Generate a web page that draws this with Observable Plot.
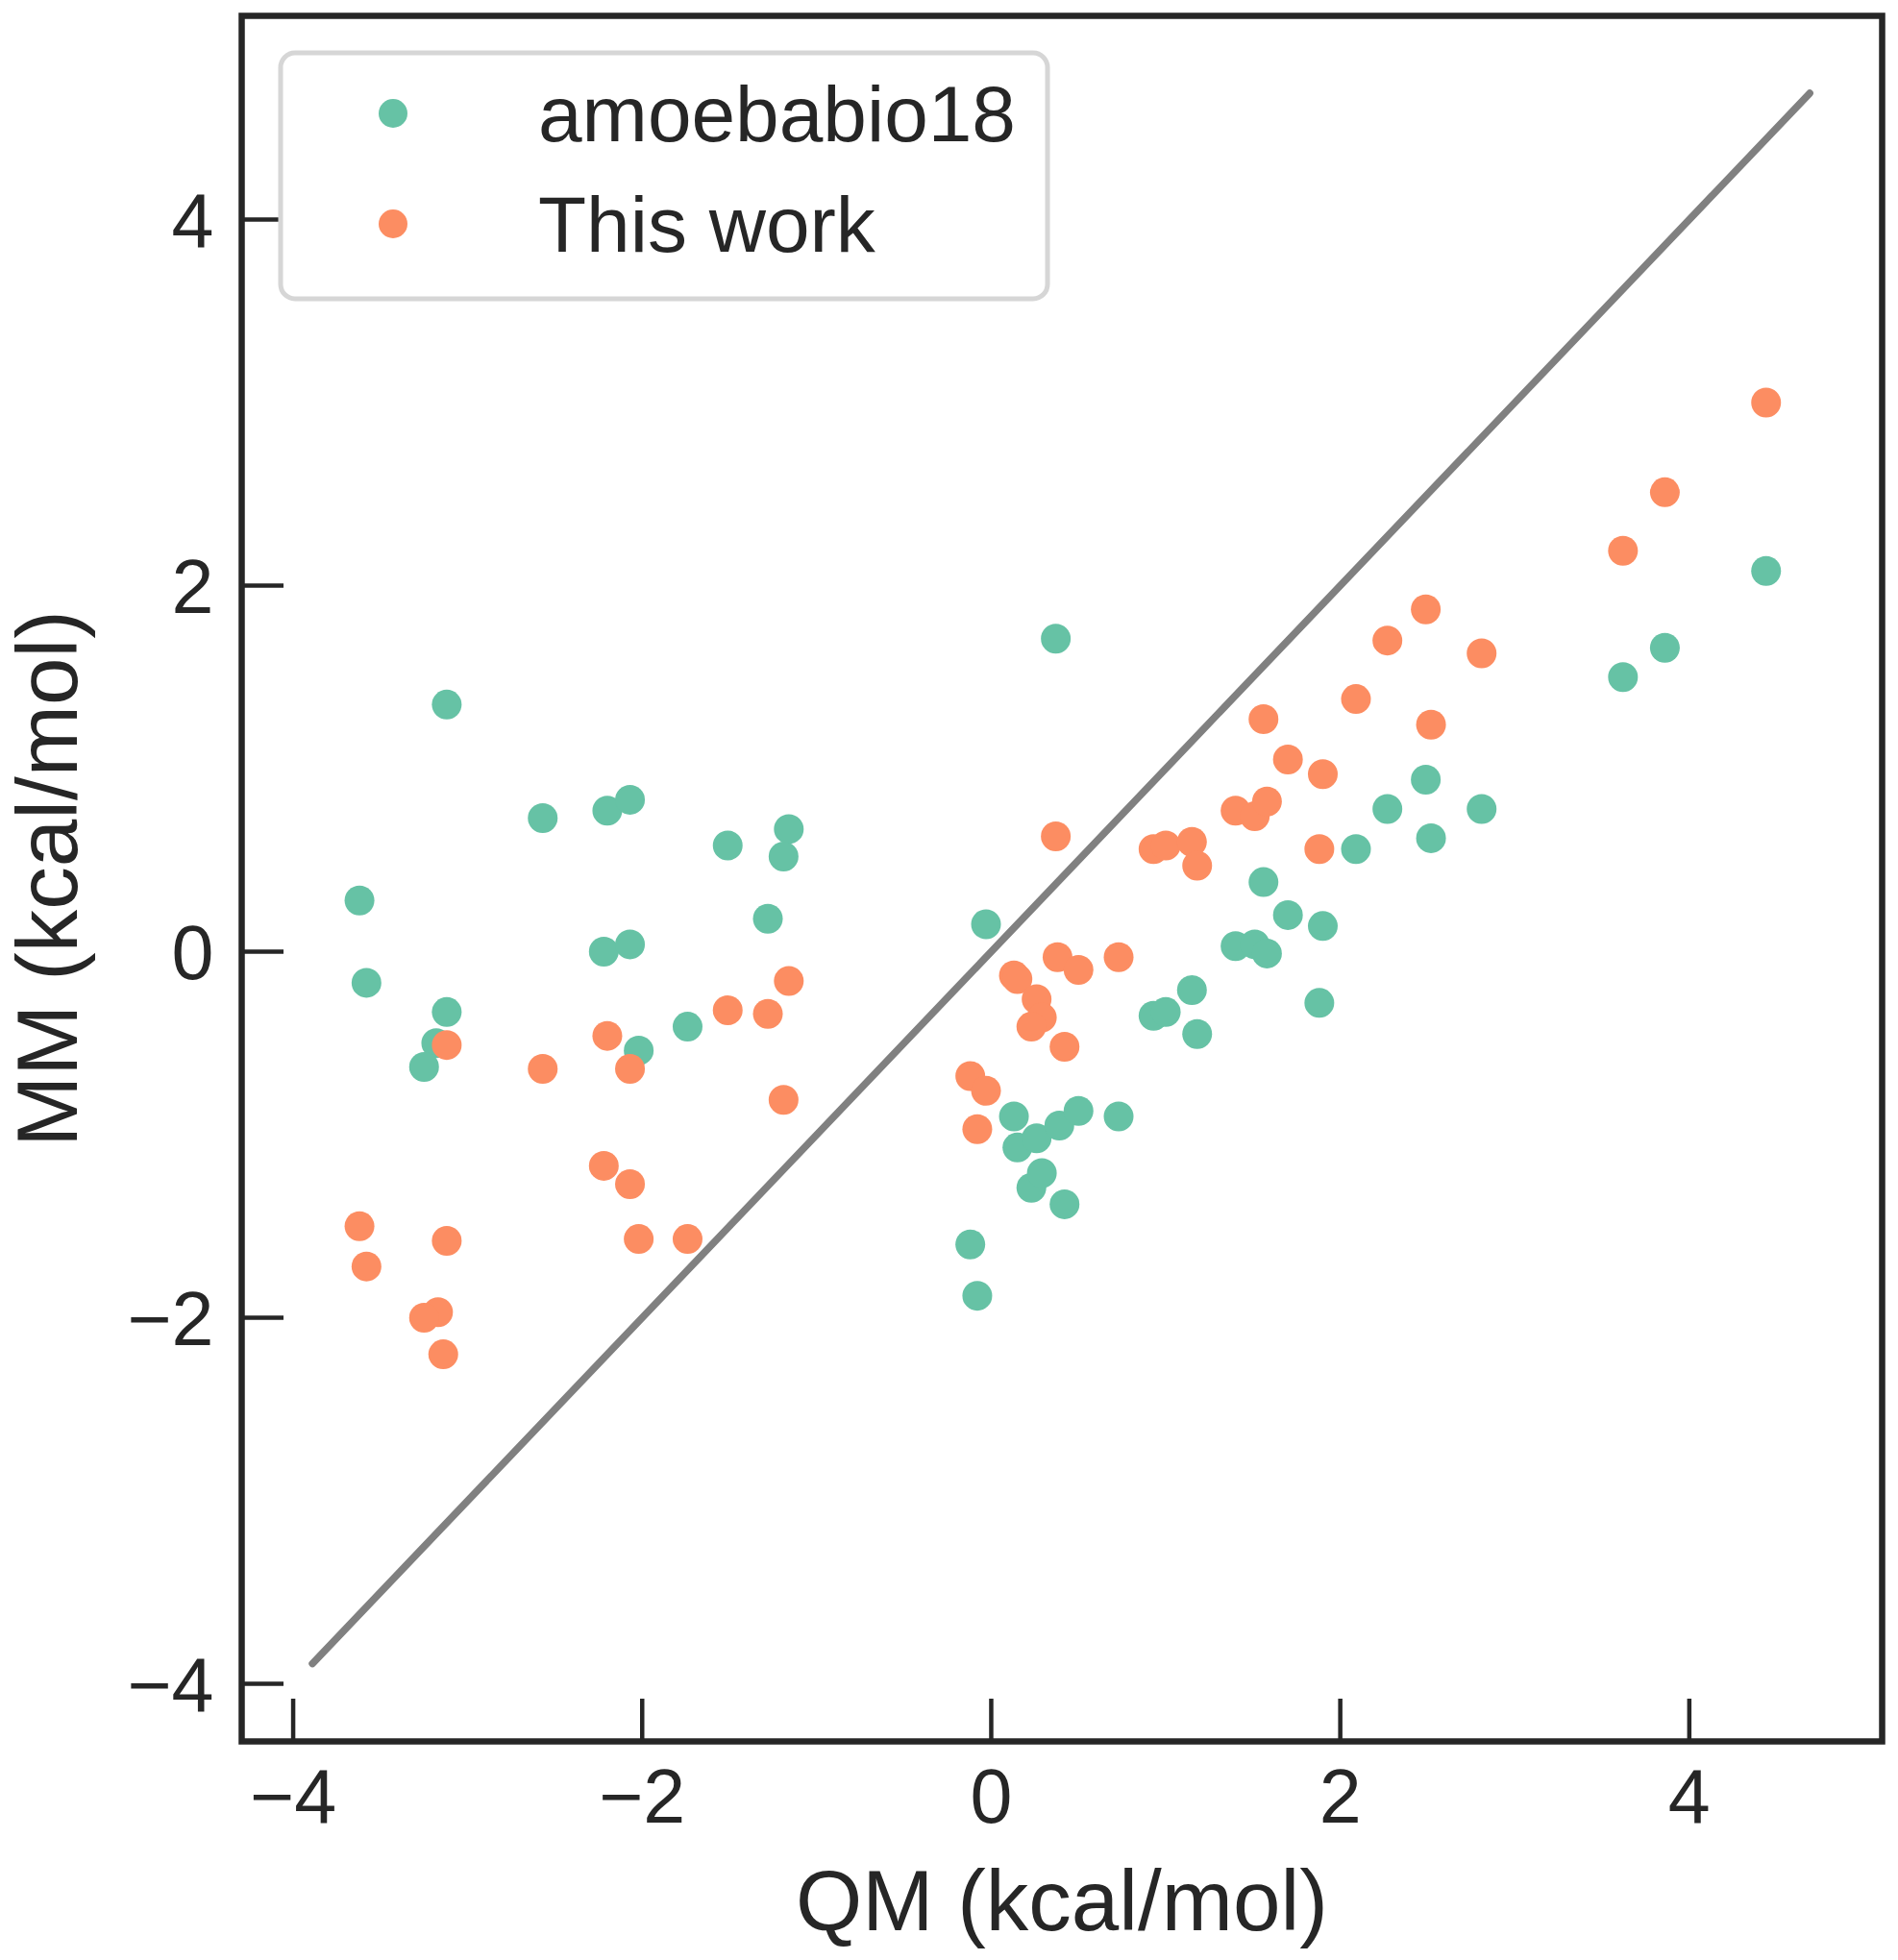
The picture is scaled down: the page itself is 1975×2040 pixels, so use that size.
<!DOCTYPE html>
<html>
<head>
<meta charset="utf-8">
<script src="https://cdn.jsdelivr.net/npm/d3@7"></script>
<script src="https://cdn.jsdelivr.net/npm/@observablehq/plot@0.6"></script>
<style>
  html, body { margin: 0; padding: 0; background: white; }
  #wrap { position: relative; width: 1975px; height: 2040px; }
  #legend { position: absolute; left: 0; top: 0; pointer-events: none; }
</style>
</head>
<body>
<div id="wrap"></div>
<script>
// ---- data ----
const seriesNames = ["amoebabio18", "This work"];
const seriesColors = ["#66c2a5", "#fc8d62"];

const qmAmoeba = [-3.62, -3.58, -3.12, -3.12, -3.18, -3.25, -2.57, -2.20, -2.07, -2.22, -2.07, -2.02, -1.74, -1.51, -1.16, -1.19, -1.28,
  0.37, -0.03, -0.12, -0.08, 0.13, 0.15, 0.23, 0.26, 0.29, 0.39, 0.42, 0.50, 0.73, 0.93, 1.00, 1.15, 1.18,
  1.40, 1.51, 1.58, 1.56, 1.70, 1.90, 1.88, 2.09, 2.27, 2.49, 2.52, 2.81, 3.62, 3.86, 4.44];
const mmAmoeba = [0.28, -0.17, 1.35, -0.33, -0.50, -0.63, 0.73, 0.77, 0.83, 0.00, 0.04, -0.54, -0.41, 0.58, 0.67, 0.52, 0.18,
  1.71, 0.15, -1.60, -1.88, -0.90, -1.07, -1.29, -1.02, -1.21, -0.95, -1.38, -0.87, -0.90, -0.35, -0.33, -0.21, -0.45,
  0.03, 0.04, -0.01, 0.38, 0.20, 0.14, -0.28, 0.56, 0.78, 0.94, 0.62, 0.78, 1.50, 1.66, 2.08];

const qmThis = [-3.62, -3.58, -3.12, -3.12, -3.14, -3.17, -3.25, -2.57, -2.20, -2.22, -2.07, -2.07, -2.02, -1.74, -1.51, -1.28, -1.16, -1.19,
  0.37, 0.38, 0.50, 0.73, 0.13, 0.15, 0.26, 0.29, 0.23, 0.42, -0.12, -0.03, -0.08,
  0.93, 1.00, 1.15, 1.18, 1.40, 1.51, 1.58, 1.56, 1.70, 1.90, 1.88, 2.09, 2.27, 2.49, 2.52, 2.81, 3.62, 3.86, 4.44];
const mmThis = [-1.50, -1.72, -0.51, -1.58, -2.20, -1.97, -2.00, -0.64, -0.46, -1.17, -0.64, -1.27, -1.57, -1.57, -0.32, -0.34, -0.16, -0.81,
  0.63, -0.03, -0.10, -0.03, -0.13, -0.15, -0.26, -0.36, -0.41, -0.52, -0.68, -0.76, -0.97,
  0.56, 0.58, 0.60, 0.47, 0.77, 0.74, 0.82, 1.27, 1.05, 0.97, 0.56, 1.38, 1.70, 1.87, 1.24, 1.63, 2.19, 2.51, 3.00];

const diagQM = [-3.89, 4.69];
const xTicks = [-4, -2, 0, 2, 4];
const yTicks = [-4, -2, 0, 2, 4];
const xLabel = "QM (kcal/mol)";
const yLabel = "MM (kcal/mol)";

// ---- layout ----
const W = 1975, H = 2040;
const mL = 251, mR = 17, mT = 16, mB = 228;
const xDomain = [-4.295, 5.105];
const yDomain = [-4.315, 5.113];
const tickLen = 44;
const ink = "#262626";
const font = "'Liberation Sans', Arial, Helvetica, sans-serif";

const pxPerX = (W - mL - mR) / (xDomain[1] - xDomain[0]);
const pxPerY = (H - mT - mB) / (yDomain[1] - yDomain[0]);

const amoeba = qmAmoeba.map((q, i) => ({qm: q, mm: mmAmoeba[i]}));
const thisWork = qmThis.map((q, i) => ({qm: q, mm: mmThis[i]}));
const diag = diagQM.map(v => ({qm: v, mm: v}));
const fmt = d3.format("d");

const chart = Plot.plot({
  width: W, height: H,
  marginLeft: mL, marginRight: mR, marginTop: mT, marginBottom: mB,
  style: {fontFamily: font, color: ink, background: "white", overflow: "visible"},
  x: {domain: xDomain, label: null},
  y: {domain: yDomain, label: null},
  marks: [
    Plot.line(diag, {x: "qm", y: "mm", stroke: "#808080", strokeWidth: 7.5, strokeLinecap: "round"}),
    Plot.dot(amoeba, {x: "qm", y: "mm", r: 15.5, fill: seriesColors[0], stroke: "none"}),
    Plot.dot(thisWork, {x: "qm", y: "mm", r: 15.5, fill: seriesColors[1], stroke: "none"}),
    Plot.ruleX(xTicks, {x: d => d, y1: yDomain[0], y2: yDomain[0] + tickLen / pxPerY, stroke: ink, strokeWidth: 4.5}),
    Plot.ruleY(yTicks, {y: d => d, x1: xDomain[0], x2: xDomain[0] + tickLen / pxPerX, stroke: ink, strokeWidth: 4.5}),
    Plot.axisX(xTicks, {tickSize: 0, tickPadding: 28, fontSize: 79, tickFormat: fmt, label: null, fill: ink}),
    Plot.axisY(yTicks, {tickSize: 0, tickPadding: 29, fontSize: 79, tickFormat: fmt, label: null, fill: ink, dy: 3}),
    Plot.text([xLabel], {frameAnchor: "bottom", lineAnchor: "bottom", textAnchor: "middle", dy: 196, fontSize: 89, fill: ink}),
    Plot.text([yLabel], {frameAnchor: "left", lineAnchor: "bottom", textAnchor: "middle", rotate: -90, dx: -172, fontSize: 89, fill: ink}),
    Plot.frame({stroke: ink, strokeWidth: 6.5})
  ]
});

const wrap = document.getElementById("wrap");
wrap.appendChild(chart);

// ---- legend (inside the axes, upper left) ----
const leg = d3.select(wrap).append("svg")
  .attr("id", "legend").attr("width", W).attr("height", 400)
  .style("font-family", font);
leg.append("rect")
  .attr("x", 292).attr("y", 55).attr("width", 798).attr("height", 256)
  .attr("rx", 15).attr("ry", 15)
  .attr("fill", "white").attr("stroke", "#d6d6d6").attr("stroke-width", 5);
seriesNames.forEach((name, i) => {
  const cy = 118 + i * 115;
  leg.append("circle").attr("cx", 409).attr("cy", cy).attr("r", 15).attr("fill", seriesColors[i]);
  leg.append("text").attr("x", 560).attr("y", cy + 29)
    .attr("font-size", 82).attr("fill", ink).text(name);
});
</script>
</body>
</html>
